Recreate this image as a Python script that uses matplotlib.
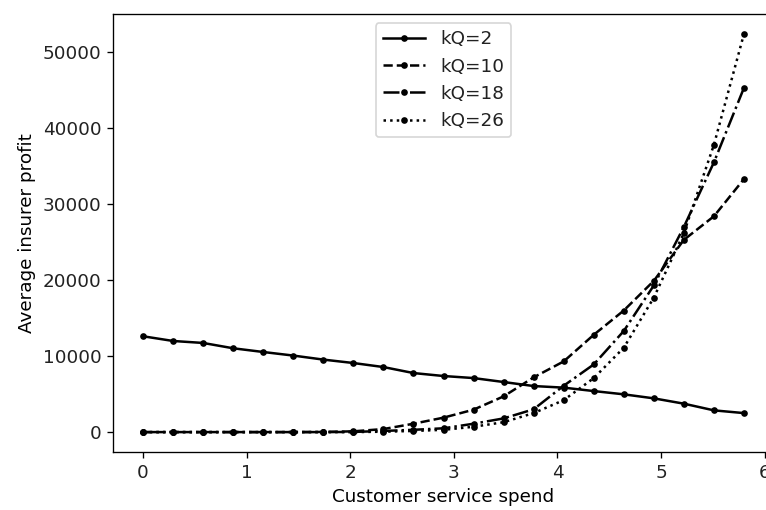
import numpy as np
import matplotlib
matplotlib.use("Agg")
import matplotlib.pyplot as plt

# Customer service spend (21 steps from 0 to 5.8)
spend = np.linspace(0, 5.8, 21)

# Average insurer profit for each kQ value
profit_kq2 = [12610, 11990, 11730, 11030, 10540, 10070, 9540, 9090, 8560, 7770,
              7380, 7110, 6590, 6060, 5850, 5400, 4970, 4440, 3740, 2860, 2500]
profit_kq10 = [0, 0, 0, 0, 0, 0, 20, 100, 400, 1100,
               1900, 2950, 4700, 7200, 9300, 12800, 16000, 19900, 25300, 28400, 33300]
profit_kq18 = [0, 0, 0, 0, 0, 0, 0, 20, 150, 300,
               500, 1100, 1800, 3000, 6100, 8900, 13300, 19300, 27000, 35500, 45300]
profit_kq26 = [0, 0, 0, 0, 0, 0, 0, 0, 50, 150,
               300, 700, 1300, 2500, 4200, 7100, 11100, 17700, 26200, 37800, 52400]

labels = ["kQ=2", "kQ=10", "kQ=18", "kQ=26"]
styles = ["-", "--", "-.", ":"]

plt.rcParams["font.size"] = 11
plt.rcParams["text.color"] = "#222222"
plt.rcParams["xtick.labelcolor"] = "#222222"
plt.rcParams["ytick.labelcolor"] = "#222222"

fig = plt.figure(figsize=(766 / 120, 510 / 120), dpi=120)
ax = fig.add_axes([113 / 766, 58 / 510, 661 / 766, 438 / 510])

for series, ls, lab in zip([profit_kq2, profit_kq10, profit_kq18, profit_kq26], styles, labels):
    ax.plot(spend, series, color="k", linestyle=ls, marker=".", label=lab)

ax.set_xlabel("Customer service spend")
ax.set_ylabel("Average insurer profit")
ax.legend(loc="upper center", handlelength=2.3)

fig.savefig("out.png", dpi=120)
